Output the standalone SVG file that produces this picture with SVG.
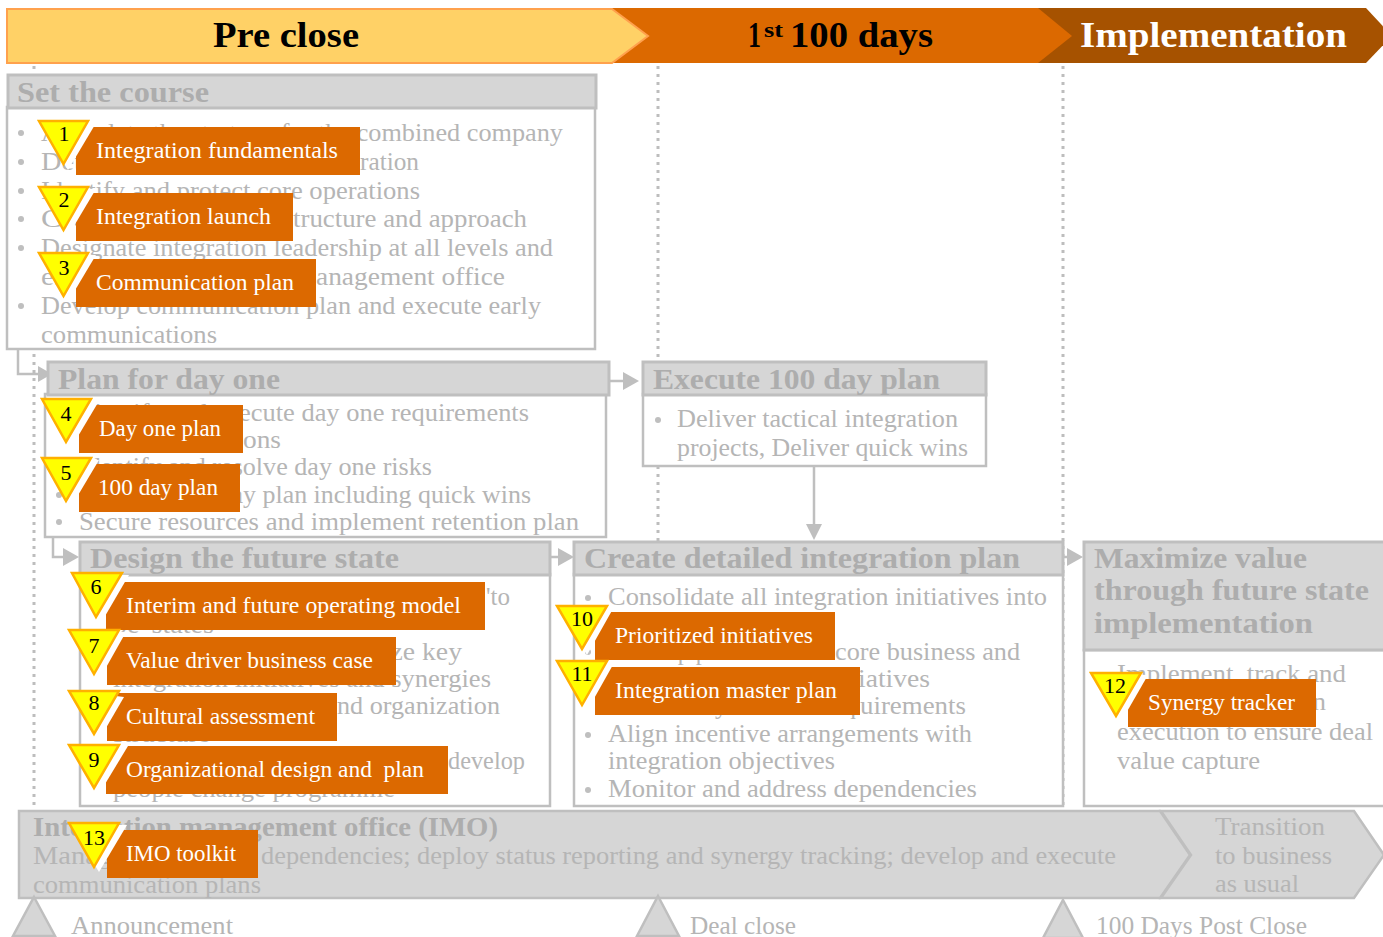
<svg xmlns="http://www.w3.org/2000/svg" width="1383" height="937" viewBox="0 0 1383 937">
<style>
text{font-family:"Liberation Serif","DejaVu Serif",serif}
.b{font-size:25px;fill:#b5b5b5}
.h{font-size:29px;font-weight:bold;fill:#adadad}
.hd{fill:#d6d6d6;stroke:#bfbfbf;stroke-width:3}
.bd{fill:#fff;stroke:#bfbfbf;stroke-width:2.5}
.dot{fill:#bfbfbf}
.sec{font-size:35px;font-weight:bold}
.lab{fill:#dc6900}
.lt{font-size:23px;fill:#fff}
.tri{fill:#ff0;stroke:#ffb000;stroke-width:2.5}
.wh{fill:#fff}
.num{font-size:22px;fill:#000;text-anchor:middle}
.conn{fill:none;stroke:#bfbfbf;stroke-width:2.5}
.ah{fill:#bfbfbf}
.dv{stroke:#bdbdbd;stroke-width:3;stroke-dasharray:3 5;fill:none}
.ms{fill:#d6d6d6;stroke:#bfbfbf;stroke-width:2.5}
</style>
<g id="dividers">
<path class="dv" d="M34 66V808"/><path class="dv" d="M658 66V541"/><path class="dv" d="M1063 66V810"/>
</g>
<g id="phases">
<polygon points="1038,8 1366,8 1392,36 1366,63 1038,63" fill="#a65200"/>
<polygon points="612,8 1038,8 1072,36 1038,63 612,63" fill="#dc6900"/>
<polygon points="7,9 612,9 648,36 612,63 7,63" fill="#ffd166" stroke="#ffa14d" stroke-width="2"/>
<text class="sec" x="213" y="47" textLength="146" lengthAdjust="spacingAndGlyphs" fill="#000">Pre close</text>
<text class="sec" x="748" y="47" textLength="13" lengthAdjust="spacingAndGlyphs" fill="#000">1</text>
<text x="764" y="37" font-size="22" font-weight="bold" fill="#000" textLength="19" lengthAdjust="spacingAndGlyphs">st</text>
<text class="sec" x="790" y="47" textLength="143" lengthAdjust="spacingAndGlyphs" fill="#000">100 days</text>
<text class="sec" x="1080" y="47" textLength="267" lengthAdjust="spacingAndGlyphs" fill="#fff">Implementation</text>
</g>
<g id="connectors">
<path class="conn" d="M18 349V374H40"/><polygon class="ah" points="38,366 52,374 38,382"/>
<path class="conn" d="M608 381H626"/><polygon class="ah" points="623,372 639,381 623,390"/>
<path class="conn" d="M814 466V526"/><polygon class="ah" points="806,524 822,524 814,540"/>
<path class="conn" d="M53 537V557H66"/><polygon class="ah" points="63,548 79,557 63,566"/>
<path class="conn" d="M550 557H562"/><polygon class="ah" points="558,548 574,557 558,566"/>
<path class="conn" d="M1063 557H1070"/><polygon class="ah" points="1067,548 1083,557 1067,566"/>
</g>
<g id="set-the-course">
<rect class="bd" x="7" y="107" width="588" height="242"/>
<rect class="hd" x="8" y="75" width="588" height="33"/>
<text class="h" x="17" y="102" textLength="192" lengthAdjust="spacingAndGlyphs">Set the course</text>
<circle class="dot" cx="21" cy="133" r="3"/><circle class="dot" cx="21" cy="162" r="3"/><circle class="dot" cx="21" cy="191" r="3"/><circle class="dot" cx="21" cy="219" r="3"/><circle class="dot" cx="21" cy="248" r="3"/><circle class="dot" cx="21" cy="306" r="3"/>
<text class="b" x="41" y="141" textLength="522" lengthAdjust="spacingAndGlyphs">Articulate the strategy for the combined company</text>
<text class="b" x="41" y="170" textLength="315" lengthAdjust="spacingAndGlyphs">Determine the pace of integ</text>
<text class="b" x="360" y="170" textLength="59" lengthAdjust="spacingAndGlyphs">ration</text>
<text class="b" x="41" y="199" textLength="379" lengthAdjust="spacingAndGlyphs">Identify and protect core operations</text>
<text class="b" x="41" y="227" textLength="248" lengthAdjust="spacingAndGlyphs">Create integration s</text>
<text class="b" x="293" y="227" textLength="234" lengthAdjust="spacingAndGlyphs">tructure and approach</text>
<text class="b" x="41" y="256" textLength="512" lengthAdjust="spacingAndGlyphs">Designate integration leadership at all levels and</text>
<text class="b" x="41" y="285" textLength="270" lengthAdjust="spacingAndGlyphs">establish integration m</text>
<text class="b" x="316" y="285" textLength="189" lengthAdjust="spacingAndGlyphs">anagement office</text>
<text class="b" x="41" y="314" textLength="500" lengthAdjust="spacingAndGlyphs">Develop communication plan and execute early</text>
<text class="b" x="41" y="343" textLength="176" lengthAdjust="spacingAndGlyphs">communications</text>
</g>
<g id="plan-for-day-one">
<rect class="bd" x="45" y="394" width="561" height="143"/>
<rect class="hd" x="48" y="362" width="561" height="33"/>
<text class="h" x="58" y="389" textLength="222" lengthAdjust="spacingAndGlyphs">Plan for day one</text>
<circle class="dot" cx="59" cy="495" r="3"/><circle class="dot" cx="59" cy="522" r="3"/>
<text class="b" x="79" y="421" textLength="450" lengthAdjust="spacingAndGlyphs">Identify and execute day one requirements</text>
<text class="b" x="79" y="448" textLength="160" lengthAdjust="spacingAndGlyphs">and transition acti</text>
<text class="b" x="243" y="448" textLength="38" lengthAdjust="spacingAndGlyphs">ons</text>
<text class="b" x="79" y="475" textLength="353" lengthAdjust="spacingAndGlyphs">Identify and resolve day one risks</text>
<text class="b" x="79" y="503" textLength="452" lengthAdjust="spacingAndGlyphs">Develop 100 day plan including quick wins</text>
<text class="b" x="79" y="530" textLength="500" lengthAdjust="spacingAndGlyphs">Secure resources and implement retention plan</text>
</g>
<g id="execute-100-day-plan">
<rect class="bd" x="643" y="394" width="343" height="72"/>
<rect class="hd" x="643" y="362" width="343" height="33"/>
<text class="h" x="653" y="389" textLength="287" lengthAdjust="spacingAndGlyphs">Execute 100 day plan</text>
<circle class="dot" cx="658" cy="420" r="3"/>
<text class="b" x="677" y="427" textLength="281" lengthAdjust="spacingAndGlyphs">Deliver tactical integration</text>
<text class="b" x="677" y="456" textLength="291" lengthAdjust="spacingAndGlyphs">projects, Deliver quick wins</text>
</g>
<g id="design-the-future-state">
<rect class="bd" x="80" y="574" width="470" height="232"/>
<rect class="hd" x="80" y="542" width="470" height="33"/>
<text class="h" x="90" y="568" textLength="309" lengthAdjust="spacingAndGlyphs">Design the future state</text>
<text class="b" x="113" y="605" textLength="368" lengthAdjust="spacingAndGlyphs">Define the interim and future state</text>
<text class="b" x="486" y="605" textLength="24" lengthAdjust="spacingAndGlyphs">'to</text>
<text class="b" x="113" y="633" textLength="101" lengthAdjust="spacingAndGlyphs">be' states</text>
<text class="b" x="113" y="660" textLength="349" lengthAdjust="spacingAndGlyphs">Value drivers and prioritize key</text>
<text class="b" x="113" y="687" textLength="378" lengthAdjust="spacingAndGlyphs">integration initiatives and synergies</text>
<text class="b" x="113" y="714" textLength="222" lengthAdjust="spacingAndGlyphs">Define the future culture a</text>
<text class="b" x="337" y="714" textLength="163" lengthAdjust="spacingAndGlyphs">nd organization</text>
<text class="b" x="113" y="742" textLength="97" lengthAdjust="spacingAndGlyphs">structure</text>
<text class="b" x="113" y="769" textLength="330" lengthAdjust="spacingAndGlyphs">Assess the organization design and</text>
<text class="b" x="448" y="769" textLength="77" lengthAdjust="spacingAndGlyphs">develop</text>
<text class="b" x="113" y="797" textLength="282" lengthAdjust="spacingAndGlyphs">people change programme</text>
</g>
<g id="create-detailed-integration-plan">
<rect class="bd" x="574" y="574" width="489" height="232"/>
<rect class="hd" x="574" y="542" width="489" height="33"/>
<text class="h" x="584" y="568" textLength="436" lengthAdjust="spacingAndGlyphs">Create detailed integration plan</text>
<circle class="dot" cx="588" cy="598" r="3"/><circle class="dot" cx="588" cy="652" r="3"/><circle class="dot" cx="588" cy="735" r="3"/><circle class="dot" cx="588" cy="790" r="3"/>
<text class="b" x="608" y="605" textLength="439" lengthAdjust="spacingAndGlyphs">Consolidate all integration initiatives into</text>
<text class="b" x="608" y="660" textLength="222" lengthAdjust="spacingAndGlyphs">Develop plans for both</text>
<text class="b" x="835" y="660" textLength="185" lengthAdjust="spacingAndGlyphs">core business and</text>
<text class="b" x="608" y="687" textLength="246" lengthAdjust="spacingAndGlyphs">integration and synergy init</text>
<text class="b" x="858" y="687" textLength="72" lengthAdjust="spacingAndGlyphs">iatives</text>
<text class="b" x="608" y="714" textLength="248" lengthAdjust="spacingAndGlyphs">and identify resource req</text>
<text class="b" x="860" y="714" textLength="106" lengthAdjust="spacingAndGlyphs">uirements</text>
<text class="b" x="608" y="742" textLength="364" lengthAdjust="spacingAndGlyphs">Align incentive arrangements with</text>
<text class="b" x="608" y="769" textLength="227" lengthAdjust="spacingAndGlyphs">integration objectives</text>
<text class="b" x="608" y="797" textLength="369" lengthAdjust="spacingAndGlyphs">Monitor and address dependencies</text>
</g>
<g id="maximize-value">
<rect class="bd" x="1084" y="650" width="305" height="156"/>
<rect class="hd" x="1084" y="542" width="305" height="108"/>
<text class="h" x="1094" y="568" textLength="213" lengthAdjust="spacingAndGlyphs">Maximize value</text>
<text class="h" x="1094" y="600" textLength="275" lengthAdjust="spacingAndGlyphs">through future state</text>
<text class="h" x="1094" y="633" textLength="219" lengthAdjust="spacingAndGlyphs">implementation</text>
<text class="b" x="1117" y="682" textLength="229" lengthAdjust="spacingAndGlyphs">Implement, track and</text>
<text class="b" x="1117" y="710" textLength="209" lengthAdjust="spacingAndGlyphs">monitor integration</text>
<text class="b" x="1117" y="740" textLength="256" lengthAdjust="spacingAndGlyphs">execution to ensure deal</text>
<text class="b" x="1117" y="769" textLength="143" lengthAdjust="spacingAndGlyphs">value capture</text>
</g>
<g id="imo">
<polygon class="ms" points="19,811 1160,811 1190,855 1160,898 19,898"/>
<text class="h" x="33" y="836" textLength="465" lengthAdjust="spacingAndGlyphs" style="font-size:27px">Integration management office (IMO)</text>
<text class="b" x="33" y="864" textLength="222" lengthAdjust="spacingAndGlyphs">Manage integration</text>
<text class="b" x="261" y="864" textLength="855" lengthAdjust="spacingAndGlyphs">dependencies; deploy status reporting and synergy tracking; develop and execute</text>
<text class="b" x="33" y="893" textLength="228" lengthAdjust="spacingAndGlyphs">communication plans</text>
</g>
<g id="transition">
<polygon class="ms" points="1161,811 1354,811 1384,855 1354,898 1161,898 1191,855"/>
<text class="b" x="1215" y="835" textLength="110" lengthAdjust="spacingAndGlyphs">Transition</text>
<text class="b" x="1215" y="864" textLength="117" lengthAdjust="spacingAndGlyphs">to business</text>
<text class="b" x="1215" y="892" textLength="84" lengthAdjust="spacingAndGlyphs">as usual</text>
</g>
<g id="announcement">
<polygon class="ms" points="34,897 55,936 13,936"/>
<text class="b" x="71" y="934" textLength="162" lengthAdjust="spacingAndGlyphs">Announcement</text>
</g>
<g id="deal-close">
<polygon class="ms" points="658,896 679,936 637,936"/>
<text class="b" x="690" y="934" textLength="106" lengthAdjust="spacingAndGlyphs">Deal close</text>
</g>
<g id="post-close">
<polygon class="ms" points="1063,900 1083,938 1043,938"/>
<text class="b" x="1096" y="934" textLength="211" lengthAdjust="spacingAndGlyphs">100 Days Post Close</text>
</g>
<g id="badge-1"><rect class="lab" x="76" y="127" width="284" height="48"/><polygon class="wh" points="38,121 96,123 68,170"/><polygon class="tri" points="39,121 88,121 63.5,164"/><text class="num" x="64" y="141">1</text><text class="lt" x="96" y="158" textLength="242" lengthAdjust="spacingAndGlyphs">Integration fundamentals</text></g>
<g id="badge-2"><rect class="lab" x="76" y="193" width="217" height="48"/><polygon class="wh" points="38,187 96,189 68,236"/><polygon class="tri" points="39,187 88,187 63.5,230"/><text class="num" x="64" y="207">2</text><text class="lt" x="96" y="224" textLength="175" lengthAdjust="spacingAndGlyphs">Integration launch</text></g>
<g id="badge-3"><rect class="lab" x="76" y="259" width="240" height="48"/><polygon class="wh" points="38,253 96,255 68,302"/><polygon class="tri" points="39,253 88,253 63.5,296"/><text class="num" x="64" y="275">3</text><text class="lt" x="96" y="290" textLength="198" lengthAdjust="spacingAndGlyphs">Communication plan</text></g>
<g id="badge-4"><rect class="lab" x="79" y="405" width="164" height="48"/><polygon class="wh" points="41,399 99,401 71,448"/><polygon class="tri" points="42,399 91,399 66,442"/><text class="num" x="66" y="421">4</text><text class="lt" x="99" y="436" textLength="122" lengthAdjust="spacingAndGlyphs">Day one plan</text></g>
<g id="badge-5"><rect class="lab" x="79" y="464" width="161" height="48"/><polygon class="wh" points="41,458 99,460 71,507"/><polygon class="tri" points="42,458 91,458 66,501"/><text class="num" x="66" y="480">5</text><text class="lt" x="98" y="495" textLength="120" lengthAdjust="spacingAndGlyphs">100 day plan</text></g>
<g id="badge-6"><rect class="lab" x="106" y="582" width="379" height="48"/><polygon class="wh" points="71,573 129,575 101,623"/><polygon class="tri" points="72,573 122,573 96,617"/><text class="num" x="96" y="594">6</text><text class="lt" x="126" y="613" textLength="335" lengthAdjust="spacingAndGlyphs">Interim and future operating model</text></g>
<g id="badge-7"><rect class="lab" x="107" y="637" width="289" height="48"/><polygon class="wh" points="68,630 126,632 99,680"/><polygon class="tri" points="69,630 119,630 94,674"/><text class="num" x="94" y="653">7</text><text class="lt" x="126" y="668" textLength="247" lengthAdjust="spacingAndGlyphs">Value driver business case</text></g>
<g id="badge-8"><rect class="lab" x="107" y="693" width="230" height="48"/><polygon class="wh" points="68,690 124,697 99,740"/><polygon class="tri" points="69,691 119,691 94,734"/><text class="num" x="94" y="710">8</text><text class="lt" x="126" y="724" textLength="189" lengthAdjust="spacingAndGlyphs">Cultural assessment</text></g>
<g id="badge-9"><rect class="lab" x="106" y="746" width="342" height="48"/><polygon class="wh" points="68,744 128,746 99,794"/><polygon class="tri" points="69,745 119,745 94,788"/><text class="num" x="94" y="767">9</text><text class="lt" x="126" y="777" textLength="298" lengthAdjust="spacingAndGlyphs" style="white-space:pre">Organizational design and  plan</text></g>
<g id="badge-10"><rect class="lab" x="595" y="612" width="240" height="48"/><polygon class="wh" points="556,605 614,607 587,655"/><polygon class="tri" points="557,606 607,606 582,649"/><text class="num" x="582" y="626">10</text><text class="lt" x="615" y="643" textLength="198" lengthAdjust="spacingAndGlyphs">Prioritized initiatives</text></g>
<g id="badge-11"><rect class="lab" x="595" y="667" width="265" height="48"/><polygon class="wh" points="556,661 614,663 587,711"/><polygon class="tri" points="557,661 607,661 582,705"/><text class="num" x="582" y="681">11</text><text class="lt" x="615" y="698" textLength="222" lengthAdjust="spacingAndGlyphs">Integration master plan</text></g>
<g id="badge-12"><rect class="lab" x="1128" y="679" width="188" height="48"/><polygon class="wh" points="1090,673 1148,675 1121,722"/><polygon class="tri" points="1091,673 1141,673 1116,716"/><text class="num" x="1115" y="693">12</text><text class="lt" x="1148" y="710" textLength="147" lengthAdjust="spacingAndGlyphs">Synergy tracker</text></g>
<g id="badge-13"><rect class="lab" x="107" y="830" width="151" height="48"/><polygon class="wh" points="68,823 127,825 99,872"/><polygon class="tri" points="69,823 119,823 94,867"/><text class="num" x="94" y="845">13</text><text class="lt" x="126" y="861" textLength="110" lengthAdjust="spacingAndGlyphs">IMO toolkit</text></g>
</svg>
